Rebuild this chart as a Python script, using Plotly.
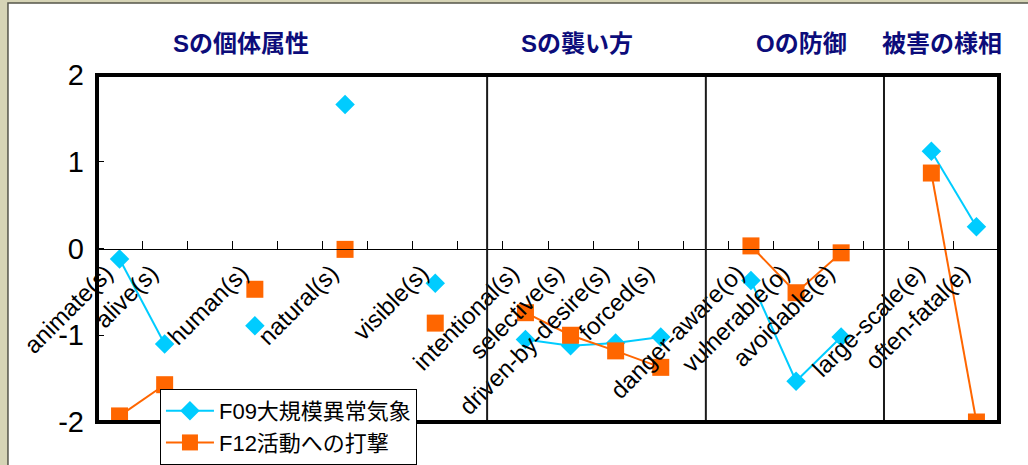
import plotly.graph_objects as go

# Category axis: 20 slots, blank slots separate the attribute groups
categories = [
    "animate(s)", "alive(s)", "", "human(s)", "", "natural(s)", "", "visible(s)", "",
    "intentional(s)", "selective(s)", "driven-by-desire(s)", "forced(s)", "",
    "danger-aware(o)", "vulnerable(o)", "avoidable(e)", "",
    "large-scale(e)", "often-fatal(e)",
]

f09_values = [
    -0.12, -1.10, None, -0.89, None, 1.66, None, -0.40, None,
    -1.05, -1.12, -1.09, -1.02, None,
    -0.37, -1.53, -1.02, None,
    1.12, 0.25,
]

f12_values = [
    -1.93, -1.57, None, -0.47, None, -0.01, None, -0.86, None,
    -0.74, -1.00, -1.18, -1.37, None,
    0.03, -0.51, -0.05, None,
    0.87, -2.00,
]

series_names = ["F09大規模異常気象", "F12活動への打撃"]

group_titles = ["Sの個体属性", "Sの襲い方", "Oの防御", "被害の様相"]
group_title_x = [2.69, 10.14, 15.13, 18.24]
group_dividers = [8.15, 13.0, 16.95]

y_ticks = [-2, -1, 0, 1, 2]
y_tick_text = ["-2", "-1", "0", "1", "2"]

FONT = "Liberation Sans, Arial, Noto Sans CJK JP, sans-serif"
BLUE = "#00CCFF"
ORANGE = "#FF6600"
NAVY = "#0C0C7A"

x_pos = list(range(len(categories)))
# rotated labels sit a little left of their slot centre
label_pos = [x - 0.3 for x in x_pos]

fig = go.Figure()
fig.add_trace(go.Scatter(
    x=x_pos, y=f09_values, name=series_names[0], mode="lines+markers",
    connectgaps=False,
    line=dict(color=BLUE, width=2),
    marker=dict(symbol="diamond", size=15, color=BLUE),
))
fig.add_trace(go.Scatter(
    x=x_pos, y=f12_values, name=series_names[1], mode="lines+markers",
    connectgaps=False,
    line=dict(color=ORANGE, width=2),
    marker=dict(symbol="square", size=17, color=ORANGE),
))

shapes = [
    # white chart panel on the khaki page
    dict(type="rect", xref="paper", yref="paper", x0=-0.0987, x1=1.04,
         y0=-0.14, y1=1.2075, layer="below",
         fillcolor="white", line=dict(color="#55554a", width=1.5)),
]
for xd in group_dividers:
    shapes.append(dict(type="line", xref="x", yref="paper", x0=xd, x1=xd,
                       y0=0, y1=1, line=dict(color="#1a1a1a", width=2)))
# heavy plot frame
shapes.append(dict(type="rect", xref="paper", yref="paper", x0=0, x1=1, y0=0, y1=1,
                   line=dict(color="black", width=4)))

annotations = []
for title, xt in zip(group_titles, group_title_x):
    annotations.append(dict(text=f"<b>{title}</b>", x=xt, xref="x", y=1.092, yref="paper",
                            showarrow=False, xanchor="center", yanchor="middle",
                            font=dict(family=FONT, size=24, color=NAVY)))

fig.update_layout(
    width=1028, height=465,
    margin=dict(l=97, r=29, t=75, b=43, autoexpand=False),
    paper_bgcolor="#d6d4b6",
    plot_bgcolor="white",
    font=dict(family=FONT, color="black"),
    shapes=shapes,
    annotations=annotations,
    showlegend=True,
    legend=dict(
        x=0.0698, y=0.095, xanchor="left", yanchor="top",
        bgcolor="white", bordercolor="black", borderwidth=1,
        font=dict(family=FONT, size=22, color="black"),
        itemwidth=48, tracegroupgap=0,
    ),
    xaxis=dict(
        range=[-0.5, len(categories) - 0.5],
        tickmode="array", tickvals=label_pos, ticktext=categories,
        tickangle=-45, ticks="", showgrid=False, zeroline=False,
        showline=True, linecolor="black", linewidth=1,
        anchor="free", position=0.5, automargin=False,
        tickfont=dict(family=FONT, size=24, color="black"),
        minor=dict(tickmode="array",
                   tickvals=[i + 0.5 for i in range(len(categories) - 1)],
                   ticks="inside", ticklen=8, tickcolor="black", tickwidth=1,
                   showgrid=False),
    ),
    yaxis=dict(
        range=[-2, 2], tickmode="array", tickvals=y_ticks, ticktext=y_tick_text,
        ticks="inside", ticklen=7, tickcolor="black",
        showgrid=False, zeroline=False, showline=False, automargin=False,
        tickfont=dict(family=FONT, size=29, color="black"),
        ticklabelstandoff=12,
    ),
)

fig.write_html("out.html")
